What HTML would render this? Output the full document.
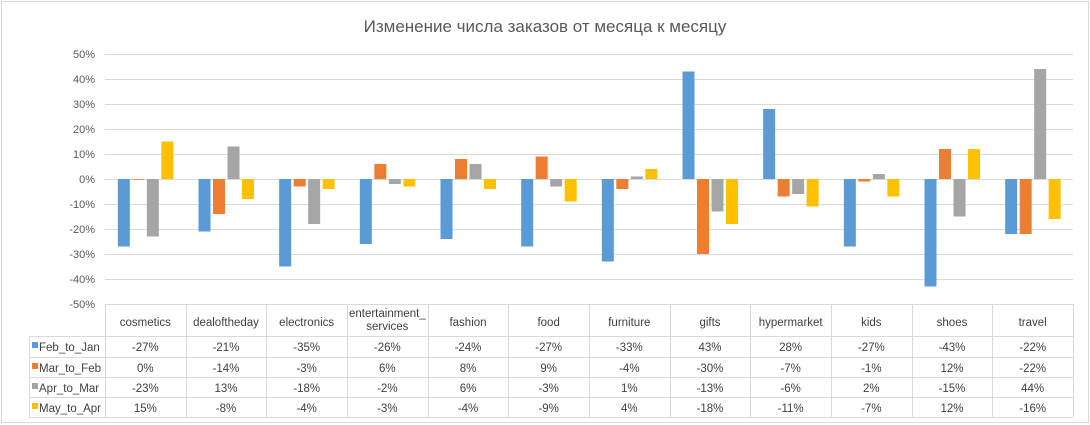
<!DOCTYPE html>
<html><head><meta charset="utf-8"><style>
html,body{margin:0;padding:0;background:#fff;}
svg{display:block;font-family:"Liberation Sans","DejaVu Sans",sans-serif;}
</style></head><body>
<svg width="1090" height="425" xmlns="http://www.w3.org/2000/svg">
<rect x="1.5" y="1.5" width="1087" height="421" fill="#fff" stroke="#d9d9d9"/>
<text x="545" y="32" text-anchor="middle" font-size="17" fill="#595959">Изменение числа заказов от месяца к месяцу</text>
<g id="grid" stroke="#d9d9d9" stroke-width="1"></g>
<g id="ylab" font-size="11" fill="#595959" text-anchor="end"></g>
<g id="bars"></g>
<g id="tbl" font-size="11.5" fill="#404040" text-anchor="middle"></g>
</svg>
<script>
const cats=["cosmetics","dealoftheday","electronics","entertainment_services","fashion","food","furniture","gifts","hypermarket","kids","shoes","travel"];
const data=[[-27,-21,-35,-26,-24,-27,-33,43,28,-27,-43,-22],[0,-14,-3,6,8,9,-4,-30,-7,-1,12,-22],[-23,13,-18,-2,6,-3,1,-13,-6,2,-15,44],[15,-8,-4,-3,-4,-9,4,-18,-11,-7,12,-16]];
const names=["Feb_to_Jan","Mar_to_Feb","Apr_to_Mar","May_to_Apr"];
const cols=["#5b9bd5","#ed7d31","#a5a5a5","#ffc000"];
const NS="http://www.w3.org/2000/svg";
function el(p,t,a,txt){const e=document.createElementNS(NS,t);for(const k in a)e.setAttribute(k,a[k]);if(txt!=null)e.textContent=txt;document.getElementById(p).appendChild(e);return e;}
const L=105,R=1073,Z=179,cw=(R-L)/12;
for(let v=50;v>=-50;v-=10){const y=Z-v*2.5;if(v>-50)el("grid","line",{x1:L,x2:R,y1:y+.5,y2:y+.5});el("ylab","text",{x:95,y:y+4},v+"%");}
cats.forEach((c,i)=>{const cx=L+cw*i+cw/2;data.forEach((s,j)=>{const v=s[i];const x=cx-27.5+j*14.5;const h=Math.abs(v)*2.5;el("bars","rect",{x:x,y:v>=0?Z-h:Z,width:12,height:Math.max(h,0.8),fill:cols[j]});});});
// table
const T="tbl";const rows=[304,336,357,377,397,417];
el(T,"line",{x1:L,x2:R,y1:304.5,y2:304.5,stroke:"#d9d9d9"});
for(let r=1;r<rows.length;r++)el(T,"line",{x1:29,x2:R,y1:rows[r]+.5,y2:rows[r]+.5,stroke:"#d9d9d9"});
el(T,"line",{x1:29.5,x2:29.5,y1:336,y2:417,stroke:"#d9d9d9"});
for(let i=0;i<=12;i++){const x=Math.round(L+cw*i)+.5;el(T,"line",{x1:x,x2:x,y1:304,y2:417,stroke:"#d9d9d9"});}
cats.forEach((c,i)=>{const cx=L+cw*i+cw/2;
 if(c==="entertainment_services"){el(T,"text",{x:cx,y:317},"entertainment_");el(T,"text",{x:cx,y:330},"services");}
 else el(T,"text",{x:cx,y:326},c);
 data.forEach((s,j)=>el(T,"text",{x:cx,y:rows[j+1]+15},s[i]+"%"));});
names.forEach((n,j)=>{const y=rows[j+1];el(T,"rect",{x:32,y:y+6,width:6,height:6,fill:cols[j]});el(T,"text",{x:39,y:y+15,"text-anchor":"start"},n);});
</script>
</body></html>
